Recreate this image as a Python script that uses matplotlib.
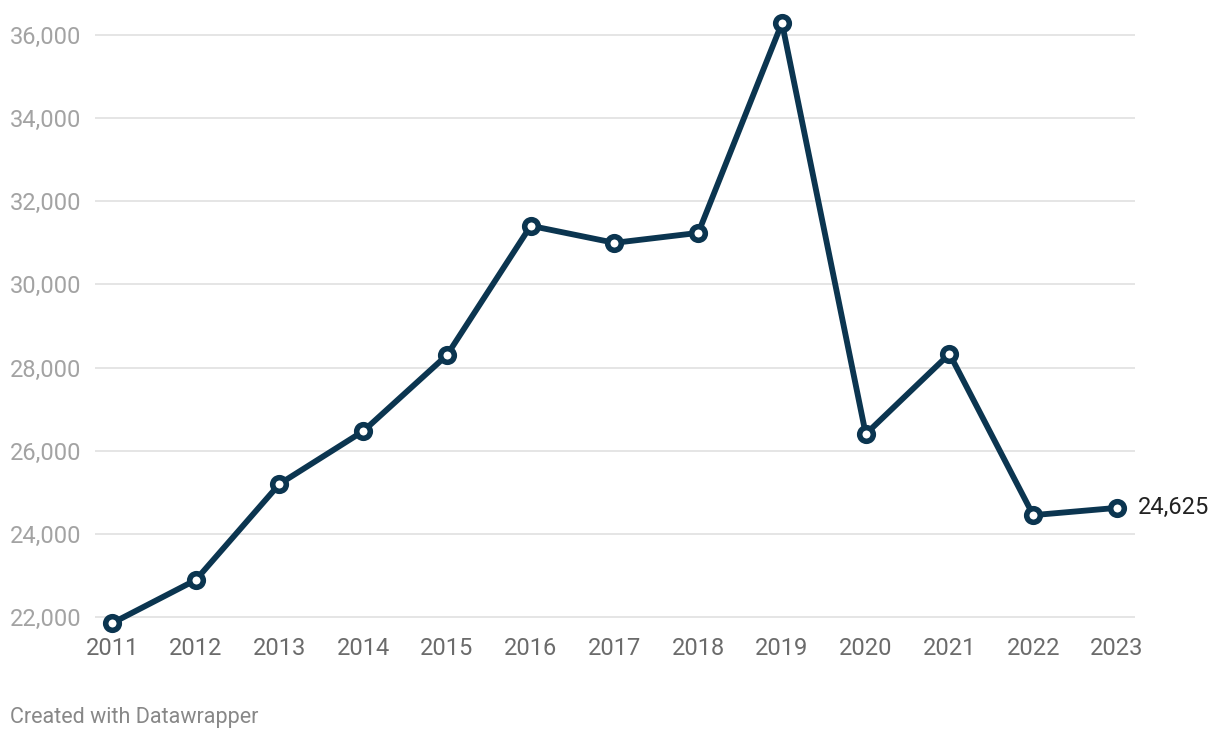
import matplotlib
matplotlib.use("Agg")
import matplotlib.pyplot as plt
from matplotlib.ticker import FuncFormatter

plt.rcParams['font.family'] = ['Roboto', 'DejaVu Sans']

years = [2011, 2012, 2013, 2014, 2015, 2016, 2017, 2018, 2019, 2020, 2021, 2022, 2023]
values = [21850, 22890, 25200, 26470, 28300, 31410, 31000, 31240, 36290, 26400, 28330, 24450, 24625]
y_ticks = [22000, 24000, 26000, 28000, 30000, 32000, 34000, 36000]

line_color = '#0b3550'

fig = plt.figure(figsize=(12.2, 7.4), dpi=100)
# axes placed in pixel terms: x 95..1135, y 15..630
ax = fig.add_axes([95 / 1220, 1 - 630 / 740, (1135 - 95) / 1220, (630 - 15) / 740])

ax.plot(years, values, color=line_color, linewidth=4.2, solid_joinstyle='round',
        marker='o', markersize=9.8, markerfacecolor='white',
        markeredgecolor=line_color, markeredgewidth=4, zorder=3, clip_on=False)

ax.set_xlim(2010.797, 2023.215)
ax.set_ylim(21687, 36481)

ax.set_yticks(y_ticks)
ax.yaxis.set_major_formatter(FuncFormatter(lambda v, p: f"{int(v):,}"))
ax.set_xticks(years)
ax.set_xticklabels([str(y) for y in years])

ax.grid(axis='y', color='#e3e3e3', linewidth=1.3)
ax.set_axisbelow(True)
for s in ax.spines.values():
    s.set_visible(False)

ax.tick_params(axis='y', length=0, pad=10, labelsize=17, labelcolor='#a3a3a3')
ax.tick_params(axis='x', length=0, pad=5, labelsize=17, labelcolor='#6b6b6b')

ax.annotate(f"{values[-1]:,}", xy=(years[-1], values[-1]), xytext=(15, 0),
            textcoords='offset points', va='center', ha='left',
            fontsize=17, color='#222222', annotation_clip=False)

fig.text(10 / 1220, 1 - 717 / 740, "Created with Datawrapper", fontsize=15.5,
         color='#888888', va='center', ha='left')

fig.savefig("out.png", dpi=100)
